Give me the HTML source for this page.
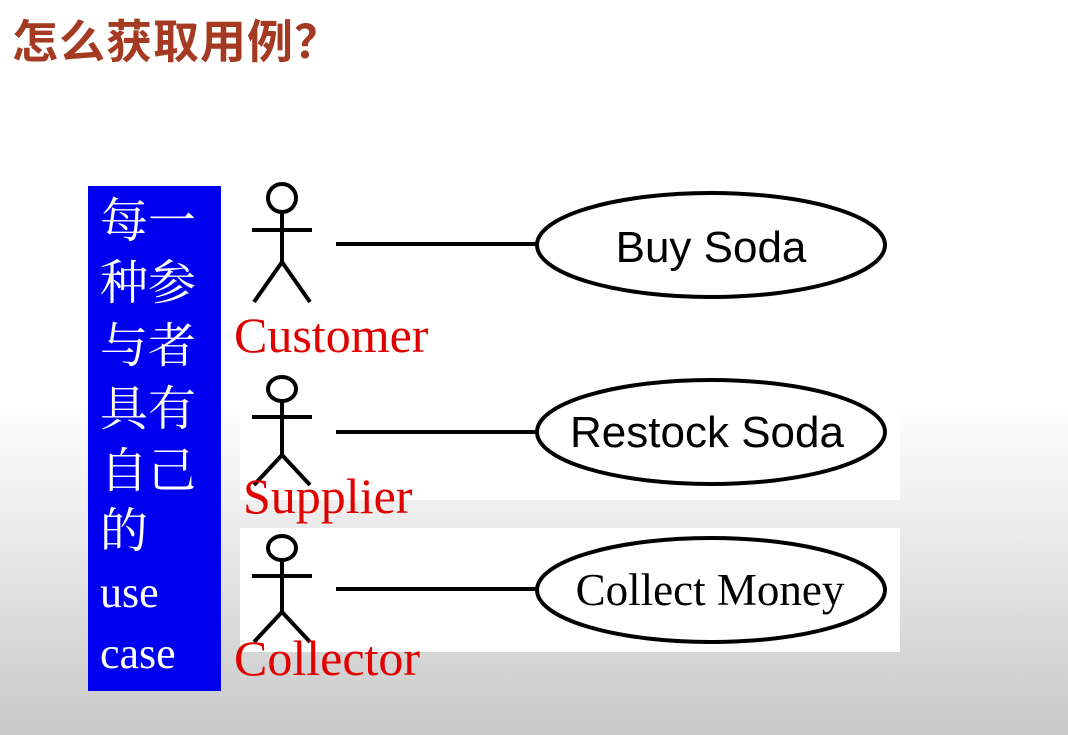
<!DOCTYPE html>
<html><head><meta charset="utf-8"><style>
html,body{margin:0;padding:0}
body{width:1068px;height:735px;position:relative;overflow:hidden;background:linear-gradient(to bottom,#fff 0px,#fff 400px,#e6e6e6 560px,#c8c8c8 735px)}
.wb{position:absolute;background:#fff}
.blue{position:absolute;left:88px;top:186px;width:133px;height:505px;background:#0000f0}
</style></head><body>
<div class="wb" style="left:240px;top:180px;width:660px;height:320px"></div>
<div class="wb" style="left:240px;top:528px;width:660px;height:124px"></div>
<div class="blue"></div>
<svg width="1068" height="735" style="position:absolute;left:0;top:0" fill="none" stroke="#000" stroke-width="4">
<text x="12" y="58" stroke="none" fill="#a43a22" font-family="Noto Sans CJK SC, sans-serif" font-weight="bold" font-size="46" letter-spacing="1">怎么获取用例？</text>
<g stroke="none" fill="#fff" font-family="Liberation Serif, Noto Serif CJK SC, serif" font-size="48">
<text x="100" y="237">每一</text>
<text x="100" y="299">种参</text>
<text x="100" y="362">与者</text>
<text x="100" y="425">具有</text>
<text x="100" y="487">自己</text>
<text x="100" y="547">的</text>
<text x="100" y="607" font-size="44">use</text>
<text x="100" y="668" font-size="44">case</text>
</g>
<g>
<ellipse cx="282" cy="198" rx="14" ry="14"/>
<line x1="282" y1="212" x2="282" y2="264"/><line x1="252" y1="230" x2="312" y2="230"/>
<line x1="282" y1="262" x2="254" y2="302"/><line x1="282" y1="262" x2="310" y2="302"/>
<line x1="336" y1="244" x2="538" y2="244"/>
<ellipse cx="711" cy="245" rx="174" ry="52"/>
</g>
<g>
<ellipse cx="282" cy="389" rx="14" ry="12"/>
<line x1="282" y1="401" x2="282" y2="455"/><line x1="252" y1="417" x2="312" y2="417"/>
<line x1="282" y1="455" x2="254" y2="485"/><line x1="282" y1="455" x2="310" y2="485"/>
<line x1="336" y1="432" x2="538" y2="432"/>
<ellipse cx="711" cy="432" rx="174" ry="52"/>
</g>
<g>
<ellipse cx="282" cy="548" rx="14" ry="12"/>
<line x1="282" y1="560" x2="282" y2="612"/><line x1="252" y1="576" x2="312" y2="576"/>
<line x1="282" y1="612" x2="254" y2="642"/><line x1="282" y1="612" x2="310" y2="642"/>
<line x1="336" y1="589" x2="538" y2="589"/>
<ellipse cx="711" cy="590" rx="174" ry="52"/>
</g>
<g stroke="none" fill="#000" text-anchor="middle">
<text x="711" y="262" font-family="Liberation Sans, sans-serif" font-size="44">Buy Soda</text>
<text x="707" y="447" font-family="Liberation Sans, sans-serif" font-size="44">Restock Soda</text>
<text x="710" y="605" font-family="Liberation Serif, serif" font-size="45">Collect Money</text>
</g>
<g stroke="none" fill="#e00000" font-family="Liberation Serif, serif" font-size="50">
<text x="234" y="352">Customer</text>
<text x="243" y="513">Supplier</text>
<text x="234" y="675">Collector</text>
</g>
</svg>
</body></html>
